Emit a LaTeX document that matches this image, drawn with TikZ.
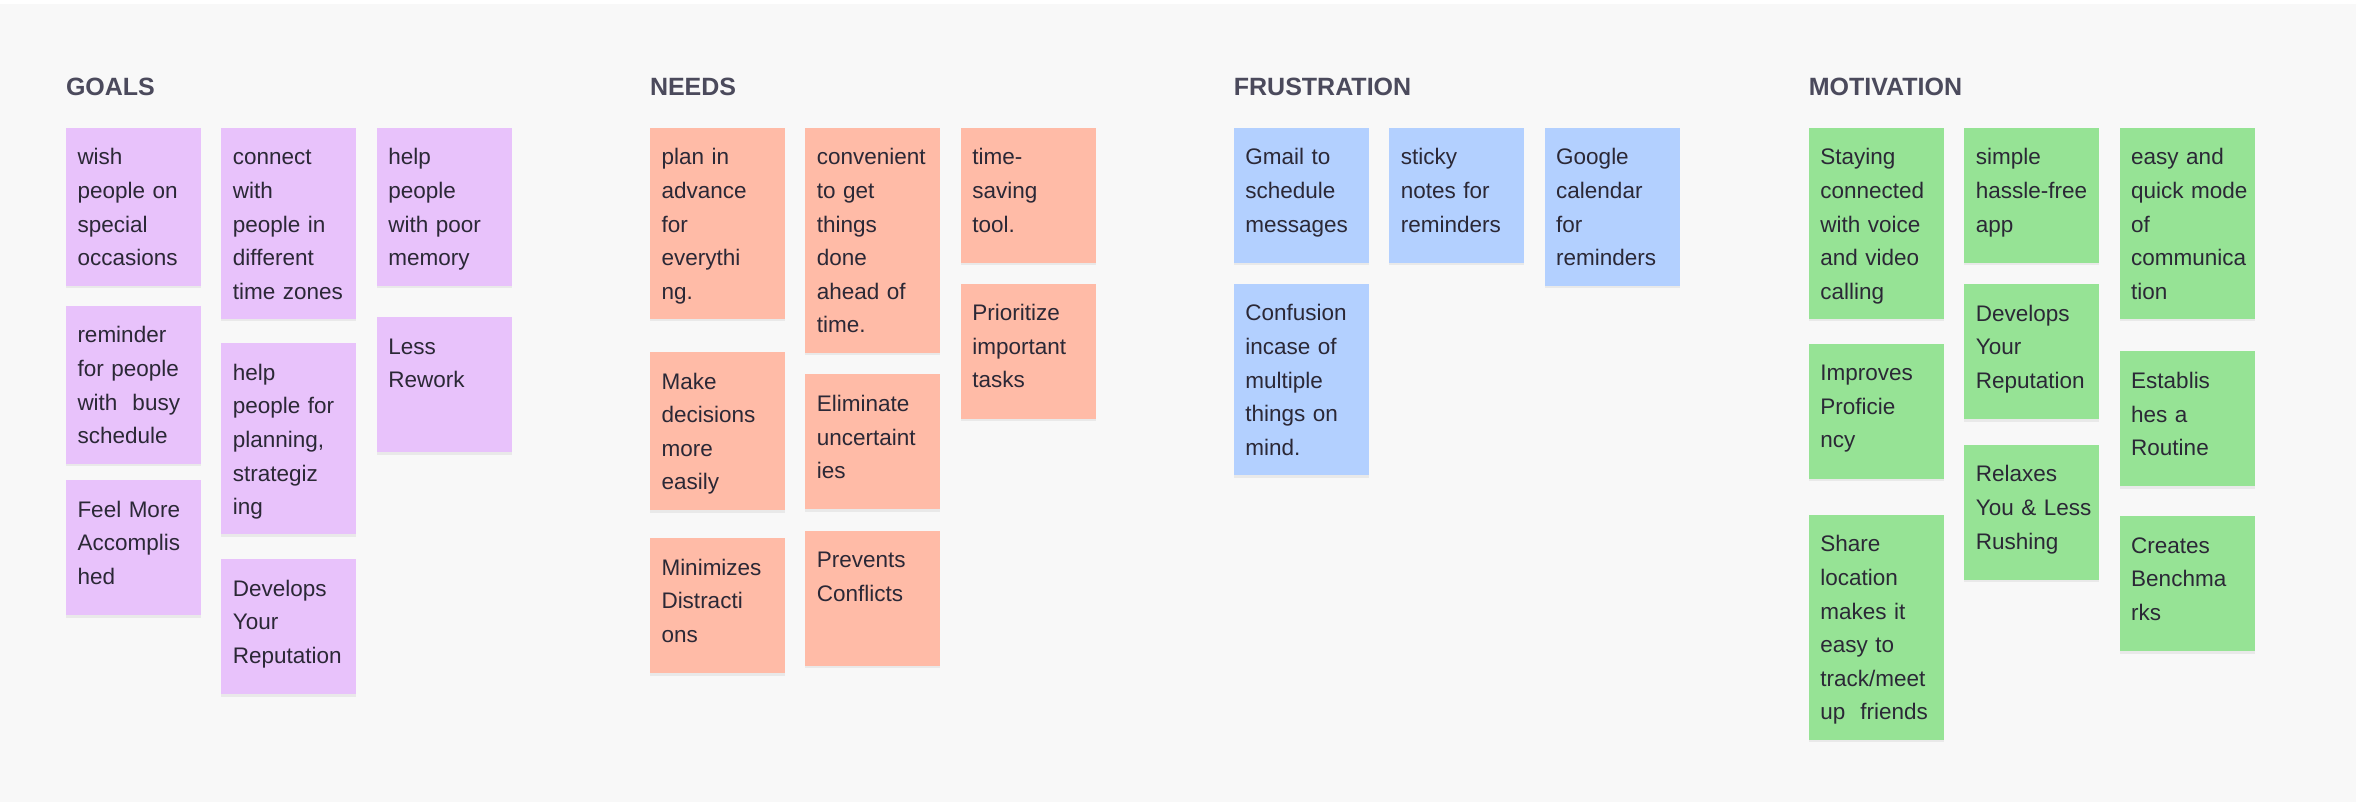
\documentclass[tikz,border=0pt]{standalone}
\usepackage{fontspec}
\setmainfont{Liberation Sans}
\usepackage{xcolor}
\usetikzlibrary{positioning,shadows}

\definecolor{boardbg}{HTML}{F8F8F8}
\definecolor{headtext}{HTML}{4B4A5C}
\definecolor{notetext}{HTML}{2B2836}
\definecolor{goalfill}{HTML}{E8C2FB}
\definecolor{needfill}{HTML}{FFBBA7}
\definecolor{frusfill}{HTML}{B3D0FF}
\definecolor{motifill}{HTML}{96E395}

\begin{document}
\begin{tikzpicture}[
  x=1pt, y=-1pt,
  head/.style={anchor=base west, inner sep=0pt, text=headtext,
               font=\fontsize{25pt}{30pt}\selectfont\bfseries},
  sticky/.style={anchor=north west, align=left, text=notetext,
                 text width=112pt, inner xsep=11.5pt, inner ysep=12pt,
                 text height=25pt, text depth=86pt,
                 font=\fontsize{22.5pt}{33.6pt}\selectfont,
                 drop shadow={opacity=0.12, shadow xshift=0pt, shadow yshift=-2.5pt}},
  lines4/.style={text depth=109pt},
  lines5/.style={text depth=142pt},
  lines6/.style={text depth=176pt},
  goal/.style={sticky, fill=goalfill},
  need/.style={sticky, fill=needfill},
  frus/.style={sticky, fill=frusfill},
  moti/.style={sticky, fill=motifill}
]
% board
\useasboundingbox (0,0) rectangle (2356,802);
\fill[white] (0,0) rectangle (2356,802);
\fill[boardbg] (0,4) rectangle (2356,802);

% goals
\node[head] (goals) at (65.8,95.5) {GOALS};
\node[goal, lines4] (wish) at (65.8,127.7) {wish\\people on\\special\\occasions};
\node[goal, lines4, below=19.6pt of wish] (remind) {reminder\\for people\\with\ \ busy\\schedule};
\node[goal, below=15.7pt of remind] (feel) {Feel More\\Accomplis\\hed};
\node[goal, lines5, right=20pt of wish.north east, anchor=north west] (connect)
  {connect\\with\\people in\\different\\time zones};
\node[goal, lines5, below=24pt of connect] (planning) {help\\people for\\planning,\\strategiz\\ing};
\node[goal, below=24.3pt of planning] (greput) {Develops\\Your\\Reputation};
\node[goal, lines4, right=20pt of connect.north east, anchor=north west] (memory)
  {help\\people\\with poor\\memory};
\node[goal, below=31pt of memory] (rework) {Less\\Rework};

% needs
\node[head] (needs) at (649.8,95.5) {NEEDS};
\node[need, lines5] (advance) at (649.8,127.7) {plan in\\advance\\for\\everythi\\ng.};
\node[need, lines4, below=32.7pt of advance] (decide) {Make\\decisions\\more\\easily};
\node[need, below=27.8pt of decide] (distract) {Minimizes\\Distracti\\ons};
\node[need, lines6, right=20pt of advance.north east, anchor=north west] (ahead)
  {convenient\\to get\\things\\done\\ahead of\\time.};
\node[need, below=21.1pt of ahead] (uncertain) {Eliminate\\uncertaint\\ies};
\node[need, below=20.8pt of uncertain] (conflict) {Prevents\\Conflicts};
\node[need, right=20pt of ahead.north east, anchor=north west] (saving) {time-\\saving\\tool.};
\node[need, below=20.3pt of saving] (priority) {Prioritize\\important\\tasks};

% frustration
\node[head] (frustr) at (1233.7,95.5) {FRUSTRATION};
\node[frus] (gmail) at (1233.7,127.7) {Gmail to\\schedule\\messages};
\node[frus, lines5, below=20.7pt of gmail] (confuse) {Confusion\\incase of\\multiple\\things on\\mind.};
\node[frus, right=20pt of gmail.north east, anchor=north west] (sticky) {sticky\\notes for\\reminders};
\node[frus, lines4, right=20pt of sticky.north east, anchor=north west] (calendar)
  {Google\\calendar\\for\\reminders};

% motivation
\node[head] (motiv) at (1808.7,95.5) {MOTIVATION};
\node[moti, lines5] (staying) at (1808.7,127.7) {Staying\\connected\\with voice\\and video\\calling};
\node[moti, below=24.4pt of staying] (improve) {Improves\\Proficie\\ncy};
\node[moti, lines6, below=35.8pt of improve] (share)
  {Share\\location\\makes it\\easy to\\track/meet\\up\ \ friends};
\node[moti, right=20pt of staying.north east, anchor=north west] (simple) {simple\\hassle-free\\app};
\node[moti, below=20.8pt of simple] (mreput) {Develops\\Your\\Reputation};
\node[moti, below=25.3pt of mreput] (relax) {Relaxes\\You~\&~Less\\Rushing};
\node[moti, lines5, right=20pt of simple.north east, anchor=north west] (easy)
  {easy and\\quick~mode\\of\\communica\\tion};
\node[moti, below=32.1pt of easy] (routine) {Establis\\hes a\\Routine};
\node[moti, below=29.4pt of routine] (bench) {Creates\\Benchma\\rks};
\end{tikzpicture}
\end{document}
